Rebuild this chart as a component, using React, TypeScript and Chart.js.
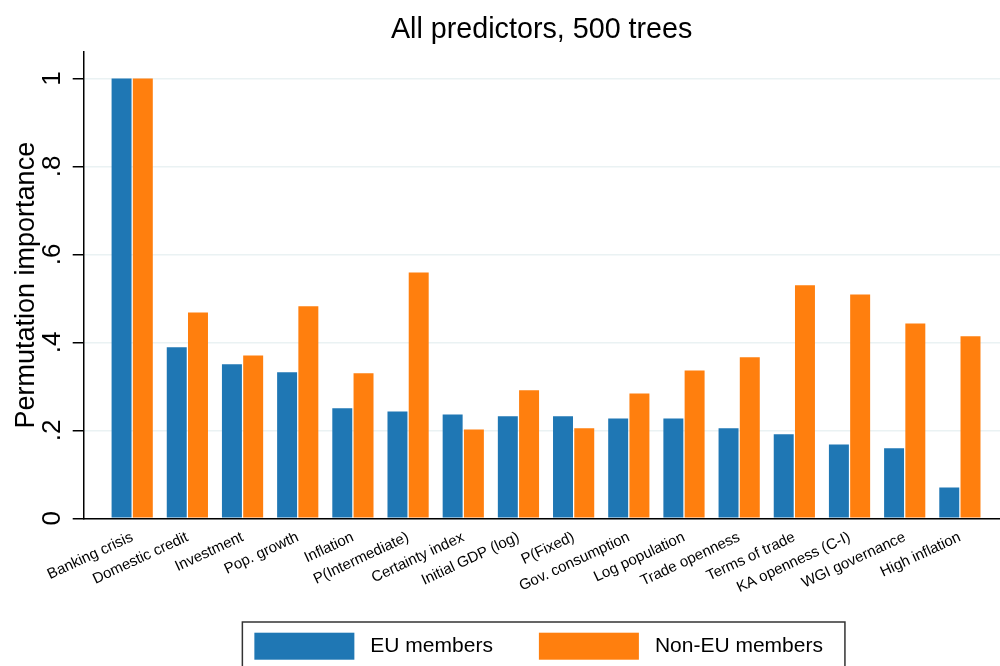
import React, { useEffect, useRef } from "react";
import { Chart, registerables } from "chart.js";

Chart.register(...registerables);

const categories = [
  "Banking crisis",
  "Domestic credit",
  "Investment",
  "Pop. growth",
  "Inflation",
  "P(Intermediate)",
  "Certainty index",
  "Initial GDP (log)",
  "P(Fixed)",
  "Gov. consumption",
  "Log population",
  "Trade openness",
  "Terms of trade",
  "KA openness (C-I)",
  "WGI governance",
  "High inflation",
];

const euMembers = [1.0, 0.389, 0.35, 0.332, 0.25, 0.243, 0.236, 0.232, 0.232, 0.227, 0.227, 0.205, 0.191, 0.168, 0.159, 0.07];
const nonEuMembers = [1.0, 0.468, 0.37, 0.482, 0.33, 0.559, 0.202, 0.291, 0.205, 0.284, 0.336, 0.366, 0.53, 0.509, 0.443, 0.414];

const yTicks = [0, 0.2, 0.4, 0.6, 0.8, 1];
const yTickLabels = ["0", ".2", ".4", ".6", ".8", "1"];

const seriesLabels = ["EU members", "Non-EU members"];
const seriesColors = ["#1f77b4", "#ff7f0e"];

const chartTitle = "All predictors, 500 trees";
const yTitle = "Permutation importance";

const FONT = "'Liberation Sans', Arial, Helvetica, sans-serif";

const legendBox = {
  id: "legendBox",
  afterDraw(chart: any) {
    const ctx = chart.ctx;
    const ca = chart.chartArea;
    const ds = chart.data.datasets;
    ctx.save();
    ctx.font = `21px ${FONT}`;
    const sw = 100, sh = 27, gapText = 16, gapItem = 46, padL = 12, padR = 22;
    const widths = ds.map((d: any) => ctx.measureText(d.label).width);
    const total =
      padL + ds.length * (sw + gapText) + widths.reduce((a: number, b: number) => a + b, 0) + gapItem * (ds.length - 1) + padR;
    const left = (ca.left + ca.right) / 2 - total / 2 + 2;
    const top = chart.height - 44;
    ctx.strokeStyle = "#333";
    ctx.lineWidth = 1.5;
    ctx.strokeRect(left, top, total, 60);
    let x = left + padL;
    ds.forEach((d: any, i: number) => {
      ctx.fillStyle = d.backgroundColor;
      ctx.fillRect(x, top + 10.7, sw, sh);
      x += sw + gapText;
      ctx.fillStyle = "#000";
      ctx.textBaseline = "middle";
      ctx.textAlign = "left";
      ctx.fillText(d.label, x, top + 10.7 + sh / 2);
      x += widths[i] + gapItem;
    });
    ctx.restore();
  },
};

export default function App() {
  const ref = useRef<HTMLCanvasElement | null>(null);

  useEffect(() => {
    if (!ref.current) return;
    Chart.defaults.font.family = FONT;
    const chart = new Chart(ref.current, {
      type: "bar",
      data: {
        datasets: [euMembers, nonEuMembers].map((vals, si) => ({
          label: seriesLabels[si],
          data: vals.map((v, i) => ({ x: i, y: v })),
          backgroundColor: seriesColors[si],
          borderWidth: 0,
          barPercentage: 0.94,
          categoryPercentage: 0.77,
        })),
      },
      options: {
        responsive: false,
        animation: false,
        layout: { padding: 0 },
        plugins: {
          legend: { display: false },
          tooltip: { enabled: false },
          title: {
            display: true,
            fullSize: false,
            text: chartTitle,
            color: "#000",
            font: { family: FONT, size: 28.7, weight: "normal" },
            padding: { top: 12.8, bottom: 4.8 },
          },
        },
        scales: {
          x: {
            type: "linear",
            offset: false,
            min: -0.886,
            max: 15.727,
            grid: { display: false, drawTicks: false },
            border: { display: true, color: "#000", width: 1.5 },
            afterBuildTicks: (s: any) => {
              s.ticks = categories.map((_, i) => ({ value: i }));
            },
            ticks: {
              autoSkip: false,
              minRotation: 25,
              maxRotation: 25,
              padding: 10,
              color: "#000",
              font: { family: FONT, size: 15 },
              callback: (v: any) => categories[v as number],
            },
            afterFit: (s: any) => {
              s.height = 147.7;
              s.paddingLeft = 0;
              s.paddingRight = 0;
            },
          },
          y: {
            type: "linear",
            min: 0,
            max: 1.06,
            afterBuildTicks: (s: any) => {
              s.ticks = yTicks.map((v) => ({ value: v }));
            },
            ticks: {
              minRotation: 90,
              maxRotation: 90,
              crossAlign: "center",
              padding: 9.4,
              color: "#000",
              font: { family: FONT, size: 26 },
              callback: (_v: any, i: number) => yTickLabels[i],
            },
            grid: {
              color: "#eaf2f3",
              lineWidth: 1.5,
              tickColor: "#000",
              tickWidth: 1.5,
              tickLength: 10.6,
            },
            border: { color: "#000", width: 1.5 },
            title: {
              display: true,
              text: yTitle,
              color: "#000",
              font: { family: FONT, size: 27 },
              padding: { top: 10, bottom: 0 },
            },
            afterFit: (s: any) => {
              s.width = 83.3;
              s.paddingTop = 0;
              s.paddingBottom = 0;
            },
          },
        },
      } as any,
      plugins: [legendBox],
    });
    return () => chart.destroy();
  }, []);

  return (
    <div style={{ position: "absolute", left: 0, top: 0, width: 1000, height: 666, background: "#fff" }}>
      <canvas ref={ref} width={1000} height={666} style={{ display: "block" }} />
    </div>
  );
}
